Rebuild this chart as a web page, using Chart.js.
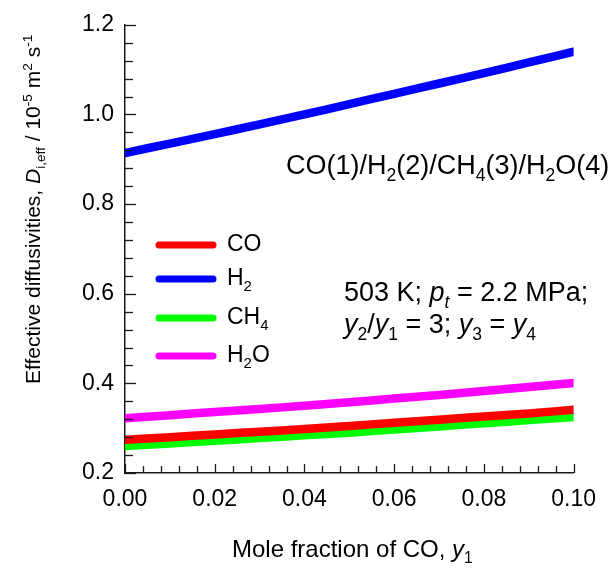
<!DOCTYPE html>
<html>
<head>
<meta charset="utf-8">
<script src="https://cdn.jsdelivr.net/npm/chart.js@4/dist/chart.umd.min.js"></script>
<style>
  body { margin: 0; background: #fff; }
  canvas { display: block; }
</style>
</head>
<body>
<canvas id="myChart" width="609" height="568"></canvas>
<script>
// mole fraction of CO, y1
const xValues = [0.00, 0.01, 0.02, 0.03, 0.04, 0.05, 0.06, 0.07, 0.08, 0.09, 0.10];
// effective diffusivities, 10^-5 m2/s
const coData  = [0.274, 0.280, 0.286, 0.292, 0.298, 0.305, 0.312, 0.319, 0.326, 0.333, 0.341];
const h2Data  = [0.914, 0.935, 0.956, 0.978, 1.000, 1.023, 1.046, 1.069, 1.092, 1.116, 1.140];
const ch4Data = [0.260, 0.266, 0.272, 0.278, 0.284, 0.290, 0.297, 0.304, 0.311, 0.318, 0.325];
const h2oData = [0.322, 0.329, 0.336, 0.343, 0.350, 0.358, 0.366, 0.374, 0.383, 0.392, 0.401];

const seriesNames = ['CO', 'H2', 'CH4', 'H2O'];
const seriesColors = ['#ff0000', '#0000ff', '#00ff00', '#ff00ff'];
// legend labels with subscripts
const legendLabels = [
    [['CO', 'n']],
    [['H', 'n'], ['2', 'sub']],
    [['CH', 'n'], ['4', 'sub']],
    [['H', 'n'], ['2', 'sub'], ['O', 'n']]
];

const xTickLabels = ['0.00', '0.02', '0.04', '0.06', '0.08', '0.10'];
const yTickLabels = ['0.2', '0.4', '0.6', '0.8', '1.0', '1.2'];

const xTitle = [['Mole fraction of CO, ', 'n'], ['y', 'i'], ['1', 'sub']];
const yTitle = [['Effective diffusivities, ', 'n'], ['D', 'i'], ['i,eff', 'sub'], [' / 10', 'n'], ['-5', 'sup'],
    [' m', 'n'], ['2', 'sup'], [' s', 'n'], ['-1', 'sup']];
const systemText = [['CO(1)/H', 'n'], ['2', 'sub'], ['(2)/CH', 'n'], ['4', 'sub'], ['(3)/H', 'n'], ['2', 'sub'], ['O(4)', 'n']];
const condText1 = [['503 K; ', 'n'], ['p', 'i'], ['t', 'isub'], [' = 2.2 MPa;', 'n']];
const condText2 = [['y', 'i'], ['2', 'sub'], ['/', 'n'], ['y', 'i'], ['1', 'sub'], [' = 3; ', 'n'], ['y', 'i'], ['3', 'sub'], [' = ', 'n'], ['y', 'i'], ['4', 'sub']];

const fontFamily = "'Liberation Sans', Arial, sans-serif";
const axisColor = '#1a1a1a';

function drawRich(ctx, parts, x, y, size) {
    let cx = x;
    ctx.textAlign = 'left';
    ctx.textBaseline = 'alphabetic';
    parts.forEach(([t, k]) => {
        const small = k === 'sub' || k === 'isub' || k === 'sup';
        const italic = k === 'i' || k === 'isub';
        const fs = small ? size * 0.65 : size;
        ctx.font = (italic ? 'italic ' : '') + fs + 'px ' + fontFamily;
        let dy = 0;
        if (k === 'sub' || k === 'isub') dy = size * 0.25;
        if (k === 'sup') dy = -size * 0.38;
        ctx.fillText(t, cx, y + dy);
        cx += ctx.measureText(t).width;
    });
    return cx - x;
}

const textPlugin = {
    id: 'textPlugin',
    afterDraw(chart) {
        const ctx = chart.ctx;
        const a = chart.chartArea;
        ctx.save();
        ctx.fillStyle = '#000';

        // inward tick marks
        ctx.strokeStyle = axisColor;
        ctx.lineWidth = 1.3;
        const xs = chart.scales.x, ys = chart.scales.y;
        for (let i = 0; i <= 25; i++) {
            const px = Math.round(xs.getPixelForValue(i * 0.004)) + 0.5;
            const len = i % 5 === 0 ? 9 : 7;
            ctx.beginPath();
            ctx.moveTo(px, a.bottom);
            ctx.lineTo(px, a.bottom - len);
            ctx.stroke();
        }
        for (let i = 0; i <= 25; i++) {
            const py = Math.round(ys.getPixelForValue(0.2 + i * 0.04)) + 0.5;
            const len = i % 5 === 0 ? 11 : 8;
            ctx.beginPath();
            ctx.moveTo(a.left, py);
            ctx.lineTo(a.left + len, py);
            ctx.stroke();
        }

        // axis titles
        drawRich(ctx, xTitle, a.left + 107, 557, 24);
        ctx.save();
        ctx.translate(40, 384);
        ctx.rotate(-Math.PI / 2);
        drawRich(ctx, yTitle, 0, 0, 21);
        ctx.restore();

        // annotations
        drawRich(ctx, systemText, a.left + 161, 174, 27);
        drawRich(ctx, condText1, a.left + 219, 301, 27);
        drawRich(ctx, condText2, a.left + 219, 333, 27);

        // legend
        const legendY = [245, 279, 318, 356];
        ctx.lineCap = 'round';
        ctx.lineWidth = 7;
        legendLabels.forEach((lab, i) => {
            ctx.strokeStyle = seriesColors[i];
            ctx.beginPath();
            ctx.moveTo(a.left + 34, legendY[i]);
            ctx.lineTo(a.left + 88, legendY[i]);
            ctx.stroke();
            ctx.fillStyle = '#000';
            drawRich(ctx, lab, a.left + 102, legendY[i] + 6, 23);
        });
        ctx.restore();
    }
};

const ctx = document.getElementById('myChart').getContext('2d');
const allData = [coData, h2Data, ch4Data, h2oData];

const myChart = new Chart(ctx, {
    type: 'line',
    data: {
        datasets: seriesNames.map((name, i) => ({
            label: name,
            data: xValues.map((x, j) => ({ x: x, y: allData[i][j] })),
            borderColor: seriesColors[i],
            backgroundColor: seriesColors[i],
            borderWidth: 8.5,
            borderCapStyle: 'round',
            borderJoinStyle: 'round',
            pointRadius: 0,
            tension: 0.4,
            fill: false
        }))
    },
    options: {
        responsive: false,
        animation: false,
        layout: { padding: { top: 21, right: 31, left: 0, bottom: 0 } },
        plugins: {
            legend: { display: false },
            tooltip: { enabled: false }
        },
        scales: {
            x: {
                type: 'linear',
                min: 0,
                max: 0.1,
                grid: { display: false, drawTicks: false },
                border: { display: true, color: axisColor, width: 1.5 },
                afterFit: (s) => { s.height = 95; },
                afterBuildTicks: (s) => { s.ticks = xTickLabels.map(t => ({ value: parseFloat(t) })); },
                ticks: {
                    padding: 13,
                    color: '#000',
                    font: { family: fontFamily, size: 23 },
                    maxRotation: 0,
                    autoSkip: false,
                    callback: (v, i) => xTickLabels[i]
                }
            },
            y: {
                min: 0.2,
                max: 1.2,
                grid: { display: false, drawTicks: false },
                border: { display: true, color: axisColor, width: 1.5 },
                afterFit: (s) => { s.width = 125; },
                afterBuildTicks: (s) => { s.ticks = yTickLabels.map(t => ({ value: parseFloat(t) })); },
                ticks: {
                    padding: 11,
                    color: '#000',
                    font: { family: fontFamily, size: 23 },
                    autoSkip: false,
                    callback: (v, i) => yTickLabels[i]
                }
            }
        }
    },
    plugins: [textPlugin]
});
</script>
</body>
</html>
